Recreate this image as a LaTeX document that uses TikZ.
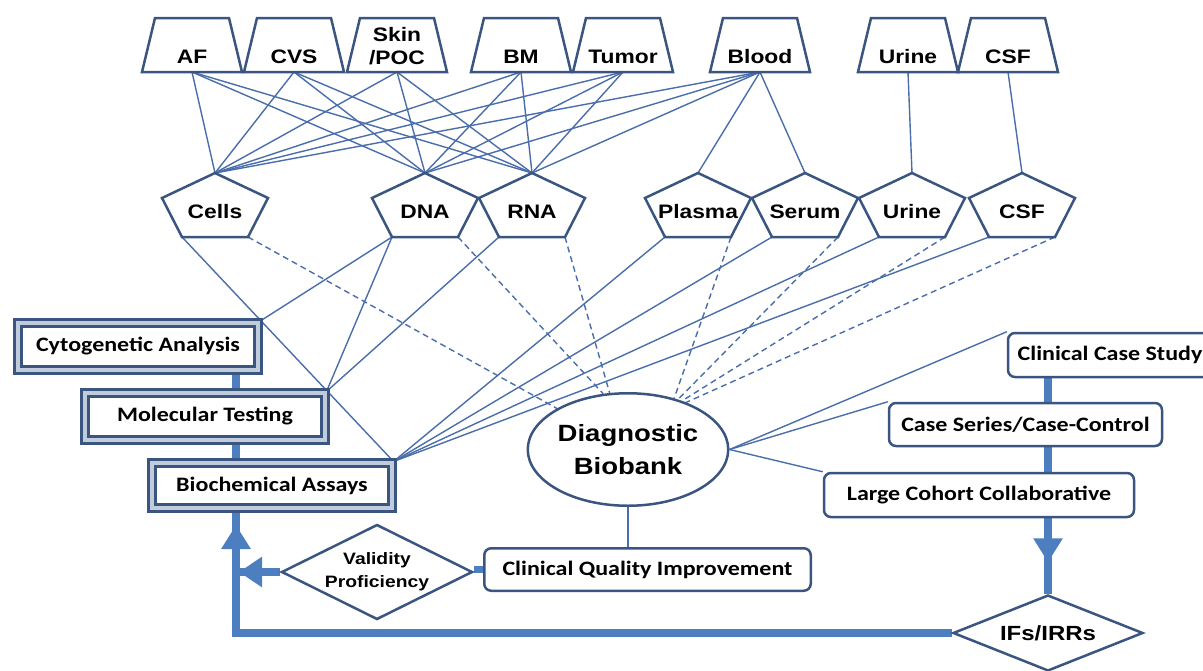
\documentclass[tikz,border=0pt]{standalone}
\usepackage{fontspec}
\setmainfont{Liberation Sans}
\newfontfamily\calib{Carlito}
\usetikzlibrary{shapes.geometric,arrows.meta,calc}
\pgfdeclarelayer{back}
\pgfdeclarelayer{bg}
\pgfsetlayers{back,bg,main}
\definecolor{edgec}{RGB}{58,86,128}
\definecolor{thinc}{RGB}{74,110,172}
\definecolor{flowc}{RGB}{76,126,192}
\definecolor{bevelc}{RGB}{192,203,220}
\newcommand\sx[1]{\scalebox{1.17}[1]{#1}}
\tikzset{
  link/.style={draw=thinc, line width=1.4pt},
  dlink/.style={link, dash pattern=on 6pt off 4pt},
  shp/.style={draw=edgec, line width=2.5pt, fill=white, line join=miter},
  ttxt/.style={font={\fontsize{19.5}{23}\selectfont\bfseries}, align=center, inner sep=0pt},
  bevelbox/.style={draw=edgec, line width=3pt, double=bevelc, double distance=4pt, fill=white,
    font={\calib\fontsize{20.5}{24}\selectfont\bfseries}, inner sep=0pt},
  rbox/.style={draw=edgec, line width=2.5pt, fill=white, rounded corners=7pt,
    font={\calib\fontsize{20.5}{24}\selectfont\bfseries}, inner sep=0pt},
  dia/.style={diamond, draw=edgec, line width=2.5pt, fill=white, inner sep=0pt, aspect=2, align=center},
  flow/.style={draw=flowc, line width=7.5pt},
  tip/.style={-{Triangle[length=24pt,width=28pt]}},
}
\newcommand\trap[4]{%
  \draw[shp] ({#2-37},18) -- ({#2+37},18) -- ({#2+50},72) -- ({#2-50},72) -- cycle;
  \node[ttxt] (#1) at (#2,#3) {#4};
  \coordinate (#1-b) at (#2,72);
}
\newcommand\pent[3]{%
  \draw[shp] (#2,173) -- ({#2+53},198) -- ({#2+33},237) -- ({#2-33},237) -- ({#2-53},198) -- cycle;
  \node[ttxt] (#1) at (#2,212) {\sx{#3}};
  \coordinate (#1-t) at (#2,173);
  \coordinate (#1-bl) at ({#2-33},237);
  \coordinate (#1-br) at ({#2+33},237);
}
\begin{document}
\begin{tikzpicture}[x=1pt,y=-1pt]
\useasboundingbox (0,0) rectangle (1203,670);
\begin{pgfonlayer}{back}\fill[white] (0,0) rectangle (1203,670);\end{pgfonlayer}
\clip (0,0) rectangle (1203,670);

% sample sources
\trap{af}{192}{57}{\sx{AF}}
\trap{cvs}{294}{57}{\sx{CVS}}
\trap{skin}{397}{46}{\sx{Skin}\\\sx{/POC}}
\trap{bm}{521}{57}{\sx{BM}}
\trap{tumor}{623}{57}{\sx{Tumor}}
\trap{blood}{760}{57}{\sx{Blood}}
\trap{urine}{908}{57}{\sx{Urine}}
\trap{csf}{1008}{57}{\sx{CSF}}

% derivatives
\pent{cells}{215}{Cells}
\pent{dna}{425}{DNA}
\pent{rna}{532}{RNA}
\pent{plasma}{698}{Plasma}
\pent{serum}{805}{Serum}
\pent{urinep}{912}{Urine}
\pent{csfp}{1022}{CSF}

% left testing boxes
\node[bevelbox, minimum width=240, minimum height=47] (cyto) at (138,346.5) {\sx{Cytogenetic Analysis}};
\node[bevelbox, minimum width=240, minimum height=47] (mol) at (205,416.5) {\sx{Molecular Testing}};
\node[bevelbox, minimum width=240, minimum height=45] (bio) at (272,485.5) {\sx{Biochemical Assays}};

% center
\node[ellipse, draw=edgec, line width=2.5pt, fill=white, minimum width=200.5, minimum height=112.5,
  inner sep=0pt, align=center, font={\fontsize{23.5}{33}\selectfont\bfseries}] (bb) at (628,449.5)
  {\sx{Diagnostic}\\\sx{Biobank}};
\node[rbox, minimum width=326.5, minimum height=42.5] (cqi) at (647.5,569.5) {\sx{Clinical Quality Improvement}};

% right boxes
\node[rbox, minimum width=204, minimum height=44] (ccs) at (1110,355) {\sx{Clinical Case Study}};
\node[rbox, minimum width=273, minimum height=43] (cscc) at (1025.5,424.5) {\sx{Case Series/Case-Control}};
\node[rbox, minimum width=310, minimum height=44] (lcc) at (979,495) {\sx{Large Cohort Collaborative}};

% diamonds
\node[dia, minimum width=191, minimum height=95, font={\fontsize{16.5}{23}\selectfont\bfseries}] (vp) at (377,572)
  {\sx{Validity}\\\sx{Proficiency}};
\node[dia, minimum width=190, minimum height=76, font={\fontsize{20.5}{24}\selectfont\bfseries}] (ifs) at (1048,633)
  {\sx{IFs/IRRs}};

\coordinate (spine) at (236,0);

\begin{pgfonlayer}{bg}
% sources to derivatives
\foreach \s in {af,cvs,skin,bm,tumor,blood}
  \foreach \p in {cells,dna,rna}
    \draw[link] (\s-b) -- (\p-t);
\draw[link] (blood-b) -- (plasma-t);
\draw[link] (blood-b) -- (serum-t);
\draw[link] (urine-b) -- (urinep-t);
\draw[link] (csf-b) -- (csfp-t);
% derivatives to tests
\draw[link] (cells-bl) -- (bio.north east);
\draw[link] (dna-bl) -- (cyto.north east);
\draw[link] (dna-bl) -- (mol.north east);
\draw[link] (rna-bl) -- (mol.north east);
\foreach \p in {plasma,serum,urinep,csfp}
  \draw[link] (\p-bl) -- (bio.north east);
% derivatives to biobank
\draw[dlink] (cells-br) -- (bb.150);
\draw[dlink] (dna-br) -- (bb.114);
\draw[dlink] (rna-br) -- (bb.108);
\draw[dlink] (plasma-br) -- (bb.48);
\draw[dlink] (serum-br) -- (bb.45);
\draw[dlink] (urinep-br) -- (bb.42);
\draw[dlink] (csfp-br) -- (bb.39);
% biobank to studies
\draw[link] (bb.east) -- (ccs.north west);
\draw[link] (bb.east) -- (cscc.north west);
\draw[link] (bb.east) -- (lcc.north west);
\draw[link] (bb.south) -- (bb.south |- cqi.north);
% thick flows
\draw[flow] (ccs.south -| ifs.north) -- (ifs.north);
\draw[flow, tip] (lcc.south -| ifs.north) -- ++(0,44);
\draw[flow] (ifs.west) -- (spine |- ifs.west) -- (spine |- bio.south);
\draw[flow, tip] (spine |- ifs.west) -- ++(0,-108);
\draw[flow] (cyto.south -| spine) -- (mol.north -| spine);
\draw[flow] (mol.south -| spine) -- (bio.north -| spine);
\draw[flow] (cqi.west) -- (cqi.west -| vp.east);
\draw[flow] (vp.west) -- (spine |- vp.west);
\draw[flow, -{Triangle[length=23pt,width=29pt]}] (vp.west) -- ($(spine |- vp.west)+(3,0)$);
\end{pgfonlayer}
\end{tikzpicture}
\end{document}
